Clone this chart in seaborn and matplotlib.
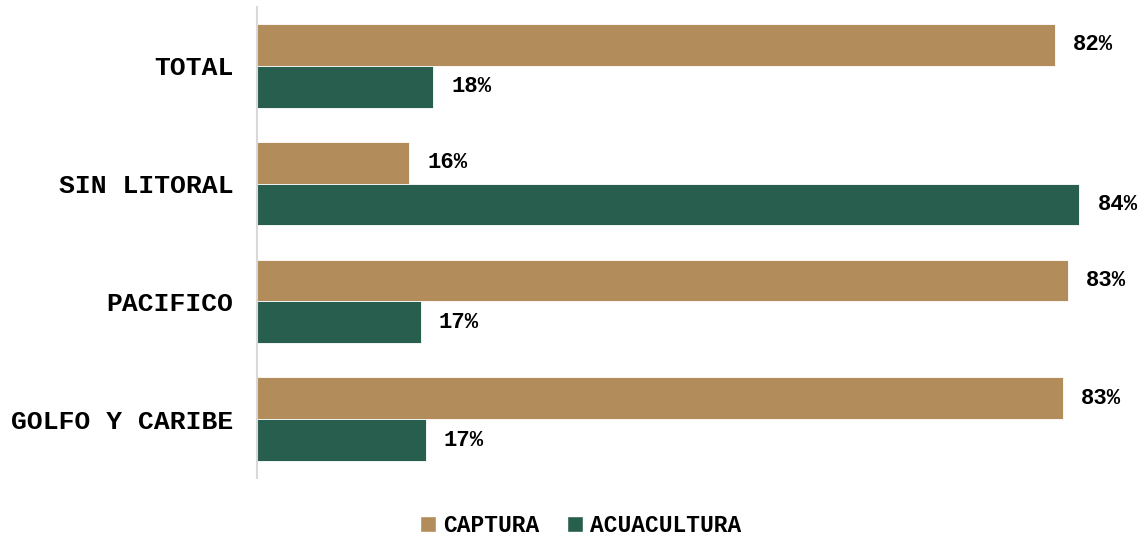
import pandas as pd
import matplotlib
matplotlib.use("Agg")
import matplotlib.pyplot as plt
from matplotlib.patches import Patch
import seaborn as sns

# ── Data ──────────────────────────────────────────────────────────
regions = ["TOTAL", "SIN LITORAL", "PACIFICO", "GOLFO Y CARIBE"]
captura = [81.9, 15.6, 83.2, 82.7]
acuacultura = [18.1, 84.4, 16.8, 17.3]
series = ["CAPTURA", "ACUACULTURA"]
colors = ["#B38C5B", "#285E4D"]

df = pd.DataFrame({
    "Region": regions * 2,
    "Serie": [series[0]] * len(regions) + [series[1]] * len(regions),
    "Pct": captura + acuacultura,
})

# ── Plot ──────────────────────────────────────────────────────────
sns.set_theme(style="white")
plt.rcParams["font.family"] = ["Liberation Mono", "DejaVu Sans"]
plt.rcParams["font.weight"] = "bold"
plt.rcParams["text.color"] = "black"

fig = plt.figure(figsize=(11.45, 5.39), dpi=100)
ax = fig.add_axes([0.2245, 0.113, 0.765, 0.874])

sns.barplot(data=df, y="Region", x="Pct", hue="Serie", order=regions,
            hue_order=series, palette=colors, saturation=1, orient="h",
            width=0.71, edgecolor="white", linewidth=0.6, ax=ax, legend=False)

for cont in ax.containers:
    ax.bar_label(cont, labels=[f"{v:.0f}%" for v in cont.datavalues],
                 padding=13, fontsize=16, fontweight="bold", color="black")

ax.set_xlim(0, 89.9)
ax.set_ylim(3.5, -0.5)
ax.set_xlabel("")
ax.set_ylabel("")
ax.set_xticks([])
ax.tick_params(axis="y", length=0, pad=17, labelsize=19, labelcolor="black")
for lbl in ax.get_yticklabels():
    lbl.set_fontweight("bold")
for side in ["top", "right", "bottom"]:
    ax.spines[side].set_visible(False)
ax.spines["left"].set_color("#d9d9d9")
ax.spines["left"].set_linewidth(1.5)

handles = [Patch(facecolor=c, label=s) for c, s in zip(colors, series)]
fig.legend(handles=handles, loc="lower center", bbox_to_anchor=(0.507, -0.035),
           ncol=2, frameon=False, handlelength=0.7, handleheight=0.7,
           handletextpad=0.3, columnspacing=1.2, prop={"weight": "bold", "size": 16.5})

plt.savefig("out.png", dpi=100)
plt.close()
